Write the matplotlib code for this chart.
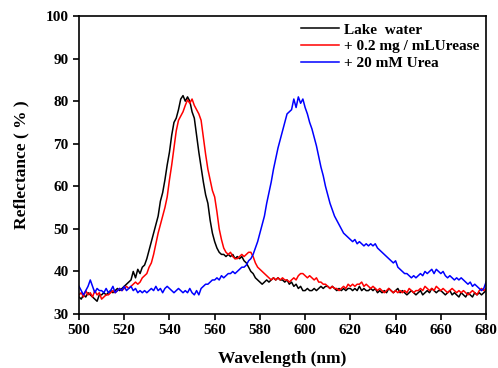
import numpy as np
from matplotlib import pyplot as plt

plt.rcParams['font.family'] = 'Liberation Serif'
plt.rcParams['font.weight'] = 'bold'

wavelength = np.arange(500, 681, 1)

lake_water = [
    34.0, 33.5, 34.5, 34.0, 35.0, 34.5, 34.0, 33.5, 33.0, 34.5,
    34.5, 35.0, 34.5, 35.0, 35.5, 35.0, 35.5, 36.0, 35.5, 36.0,
    36.5, 37.0, 37.5, 38.0, 40.0, 38.5, 40.5, 39.5, 41.0, 41.5,
    43.0, 45.0, 47.0, 49.0, 51.0, 53.0, 56.5, 58.5, 61.5, 65.0,
    68.0, 72.0, 75.0, 76.0, 78.0, 80.5, 81.3, 80.0, 81.0, 80.0,
    77.5, 76.0, 72.0, 68.0, 64.5, 61.0, 58.0, 56.0, 52.0, 49.0,
    47.0, 45.5, 44.5, 44.0, 44.0, 43.5, 44.0, 43.5, 44.0, 43.0,
    43.5, 43.0, 43.5, 42.5, 42.0, 41.0, 40.0, 39.5, 38.5, 38.0,
    37.5, 37.0, 37.5, 38.0, 37.5, 38.0, 38.5, 38.0, 38.5, 38.0,
    38.0, 37.5, 38.0, 37.0, 37.5, 36.5, 37.0, 36.0, 36.5, 35.5,
    35.5, 36.0, 35.5, 35.5, 36.0, 35.5, 36.0, 36.5, 36.0, 36.5,
    36.5, 36.0, 36.5, 36.0, 35.5, 36.0, 35.5, 36.0, 35.5, 36.0,
    36.0, 35.5, 36.0, 35.5, 36.5, 35.5, 36.0, 35.5, 35.5, 36.0,
    35.5, 36.0, 35.0, 35.5, 35.0, 35.5, 35.0, 36.0, 35.5, 35.0,
    35.5, 36.0, 35.0, 35.5, 35.0, 34.5, 35.0, 35.5, 35.0, 34.5,
    35.0, 35.5, 34.5, 35.0, 35.5, 35.0, 36.0, 35.5, 35.0, 35.5,
    35.5, 35.0, 34.5, 35.0, 35.5, 34.5, 35.0, 34.5, 34.0, 35.0,
    34.5, 34.0, 35.0, 34.5, 34.0, 35.0, 34.5, 35.0, 34.5, 35.0,
    35.5,
]

urease = [
    34.5, 35.0, 34.0, 35.5, 34.5, 35.0, 34.0, 35.5, 34.5, 35.0,
    33.5, 34.0, 34.5, 34.5, 35.0, 35.5, 35.0, 35.5, 36.0, 35.5,
    36.0, 36.5, 36.0, 36.5, 37.0, 37.5, 37.0, 37.5, 38.5, 39.0,
    39.5, 41.0, 42.0, 44.0, 46.5, 49.0, 51.0, 53.0, 55.0, 57.5,
    61.5, 65.0, 69.0, 73.0, 75.5, 76.5, 77.5, 79.0, 80.3, 79.5,
    80.5, 79.0, 78.0, 77.0, 75.5, 71.5, 67.5, 64.0, 61.5, 59.0,
    57.5, 54.0, 50.0, 47.5, 45.5, 44.5, 44.0, 44.5, 43.5, 43.0,
    43.0, 43.5, 44.0, 43.5, 44.0, 44.5, 44.5, 43.5, 42.0, 41.0,
    40.5, 40.0, 39.5, 39.0, 38.5, 38.0, 38.5, 38.0, 38.5, 38.0,
    38.5, 38.0, 38.0, 37.5, 38.0, 38.5, 38.0, 39.0, 39.5, 39.5,
    39.0, 38.5, 39.0, 38.5, 38.0, 38.5, 37.5, 37.5, 37.0, 37.0,
    36.5, 36.0, 36.5, 36.0, 36.0, 35.5, 36.0, 36.5, 36.0, 37.0,
    36.5, 37.0, 36.5, 37.0, 37.0, 37.5, 36.5, 37.0, 36.5, 36.0,
    36.5, 36.0, 35.5, 36.0, 35.5, 35.0, 35.5, 36.0, 35.5, 35.0,
    35.5, 35.0, 35.5, 35.0, 35.5, 35.0, 36.0, 35.5, 35.0, 35.5,
    35.5, 36.0, 35.5, 36.5, 36.0, 35.5, 36.0, 35.5, 36.5, 36.0,
    35.5, 36.0, 35.5, 35.0, 35.5, 36.0, 35.5, 35.0, 35.5, 35.0,
    35.5, 35.0, 34.5, 35.0, 35.5, 35.0, 34.5, 35.5, 36.0, 35.5,
    36.0,
]

urea = [
    36.5, 35.5, 34.5, 35.5, 36.5, 38.0, 36.5, 35.0, 36.0, 35.5,
    35.5, 35.0, 36.0, 35.0, 35.5, 36.5, 35.0, 35.5, 36.0, 35.5,
    36.5, 35.5, 36.0, 36.5, 35.5, 36.0, 35.0, 35.5, 35.0, 35.5,
    35.0, 35.5, 36.0, 35.5, 36.5, 35.5, 36.0, 35.0, 36.0, 36.5,
    36.0, 35.5, 35.0, 35.5, 36.0, 35.5, 35.0, 35.5, 35.0, 36.0,
    35.0, 34.5, 35.5, 34.5, 36.0, 36.5, 37.0, 37.0, 37.5, 38.0,
    38.0, 38.5, 38.0, 39.0, 38.5, 39.0, 39.5, 39.5, 40.0, 39.5,
    40.0, 40.5, 41.0, 41.0, 41.5, 42.5, 43.0, 44.0, 45.5, 47.0,
    49.0, 51.0, 53.0, 56.0, 58.5, 61.0, 64.0, 66.5, 69.0, 71.0,
    73.0, 75.0, 77.0, 77.5, 78.0, 80.5, 78.5, 81.0, 79.5, 80.5,
    78.5, 77.0, 75.0, 73.5, 71.5, 69.5, 67.0, 64.5, 62.5, 60.0,
    58.0, 56.0, 54.5, 53.0, 52.0, 51.0, 50.0, 49.0, 48.5, 48.0,
    47.5, 47.0, 47.5, 46.5, 47.0, 46.5, 46.0, 46.5, 46.0, 46.5,
    46.0, 46.5, 45.5, 45.0, 44.5, 44.0, 43.5, 43.0, 42.5, 42.0,
    42.5, 41.0, 40.5, 40.0, 39.5, 39.5, 39.0, 38.5, 39.0, 38.5,
    39.0, 39.5, 39.0, 40.0, 39.5, 40.0, 40.5, 39.5, 40.5, 40.0,
    39.5, 40.0, 39.0, 38.5, 39.0, 38.5, 38.0, 38.5, 38.0, 38.5,
    38.0, 37.5, 37.0, 37.5, 36.5, 37.0, 36.5, 36.0, 35.5, 36.0,
    37.5,
]

labels = ['Lake  water', '+ 0.2 mg / mLUrease', '+ 20 mM Urea']

fig = plt.figure(figsize=(4.98, 3.68), dpi=100)
ax = fig.add_axes([0.1586, 0.1467, 0.8174, 0.8098])

ax.plot(wavelength, lake_water, color='black', lw=1.1, label=labels[0])
ax.plot(wavelength, urease, color='red', lw=1.1, label=labels[1])
ax.plot(wavelength, urea, color='blue', lw=1.1, label=labels[2])

ax.set_xlim(500, 680)
ax.set_ylim(30, 100)
ax.set_xticks(np.arange(500, 681, 20))
ax.set_yticks(np.arange(30, 101, 10))
ax.tick_params(direction='out', length=4, width=1.2, labelsize=11)
ax.tick_params(top=False, right=False)
for s in ax.spines.values():
    s.set_linewidth(1.2)

ax.set_xlabel('Wavelength (nm)', fontsize=12.5, fontweight='bold', labelpad=10)
ax.set_ylabel('Reflectance ( % )', fontsize=12.5, fontweight='bold', labelpad=12)

ax.legend(loc='upper right', frameon=False, handlelength=2.5,
          handletextpad=0.3, labelspacing=0.2, borderaxespad=0.05,
          prop={'weight': 'bold', 'size': 11})

fig.savefig('out.png', dpi=100)
